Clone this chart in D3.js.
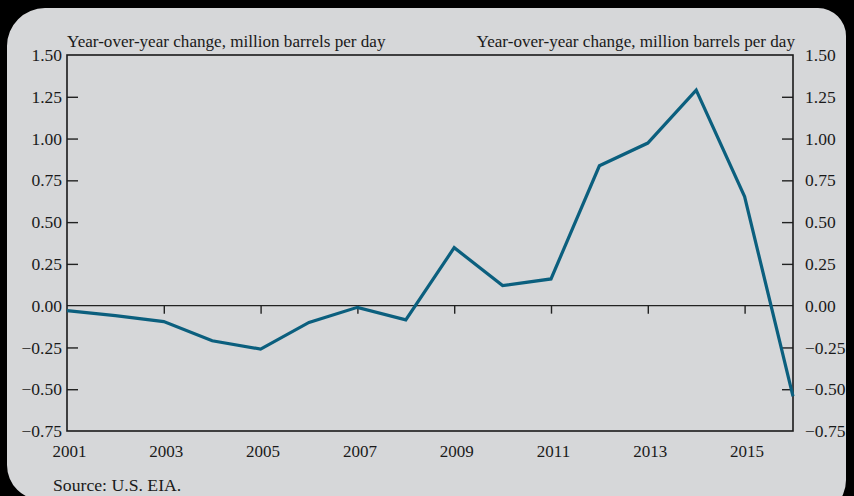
<!DOCTYPE html>
<html><head><meta charset="utf-8">
<script src="https://cdn.jsdelivr.net/npm/d3@7"></script>
<style>
html,body{margin:0;padding:0;background:#000;}
svg{display:block;}
text{font-family:"Liberation Serif","DejaVu Serif",serif;fill:#1a1a1a;}
</style></head>
<body>
<svg id="chart" width="854" height="496"></svg>
<script>
const years = [2001,2002,2003,2004,2005,2006,2007,2008,2009,2010,2011,2012,2013,2014,2015,2016];
const values = [-0.03,-0.06,-0.095,-0.21,-0.26,-0.10,-0.01,-0.085,0.347,0.12,0.16,0.837,0.973,1.29,0.653,-0.543];
const yTicks = [1.50,1.25,1.00,0.75,0.50,0.25,0.00,-0.25,-0.50,-0.75];
const xTickLabels = [2001,2003,2005,2007,2009,2011,2013,2015];
const xTickMarks = [2003,2005,2007,2009,2011,2013,2015];
const axisTitle = "Year-over-year change, million barrels per day";
const source = "Source: U.S. EIA.";

const svg = d3.select("#chart");
const L = 67, R = 793, T = 55, B = 431;

// background panel with uneven rounded corners
const p = d3.path();
p.moveTo(45,8); p.lineTo(818,8); p.arcTo(846,8,846,36,28);
p.lineTo(846,480); p.arcTo(846,516,810,516,36);
p.lineTo(42,500); p.arcTo(7,500,7,465,35);
p.lineTo(7,46); p.arcTo(7,8,45,8,38); p.closePath();
svg.append("path").attr("d",p.toString()).attr("fill","#d6d7d9");

const x = d3.scaleLinear().domain([2001,2016]).range([L,R]);
const y = d3.scaleLinear().domain([-0.75,1.5]).range([B,T]);

const fmt = v => (v<0?"\u2212":"") + Math.abs(v).toFixed(2);

// left axis
const gl = svg.append("g").attr("transform",`translate(${L},0)`)
  .call(d3.axisLeft(y).tickValues(yTicks).tickSize(-11).tickPadding(5).tickFormat(fmt));
// right axis
const gr = svg.append("g").attr("transform",`translate(${R},0)`)
  .call(d3.axisRight(y).tickValues(yTicks).tickSize(-11).tickPadding(12).tickFormat(fmt));
[gl,gr].forEach(g=>{
  g.select(".domain").remove();
  g.selectAll(".tick line").attr("stroke","#222").attr("stroke-width",1.4)
    .filter(d=>d===1.5||d===-0.75||d===0).remove();
  g.selectAll(".tick text").attr("font-size",17.5).attr("fill","#1a1a1a")
    .style("font-family",'"Liberation Serif",serif');
});

// zero line with x ticks
const gz = svg.append("g").attr("transform",`translate(0,${y(0)})`)
  .call(d3.axisBottom(x).tickValues(xTickMarks).tickSize(8).tickFormat(""));
gz.select(".domain").attr("d",`M${L},0H${R}`).attr("stroke","#222").attr("stroke-width",1.3);
gz.selectAll(".tick line").attr("stroke","#222").attr("stroke-width",1.4);

// x labels
const gx = svg.append("g").attr("transform",`translate(0,${B})`)
  .call(d3.axisBottom(x).tickValues(xTickLabels).tickSize(0).tickPadding(14).tickFormat(d3.format("d")));
gx.select(".domain").remove();
gx.selectAll(".tick text").attr("font-size",17).attr("dx",2).attr("fill","#1a1a1a")
  .style("font-family",'"Liberation Serif",serif');

// frame
svg.append("rect").attr("x",L).attr("y",T).attr("width",R-L).attr("height",B-T)
  .attr("fill","none").attr("stroke","#1a1a1a").attr("stroke-width",1.6);

// line
svg.append("path").datum(years.map((yr,i)=>[yr,values[i]]))
  .attr("fill","none").attr("stroke","#0b5f7e").attr("stroke-width",3.2)
  .attr("stroke-linejoin","miter")
  .attr("d",d3.line().x(d=>x(d[0])).y(d=>y(d[1])));

// titles
svg.append("text").attr("x",L).attr("y",47).attr("font-size",17.1).text(axisTitle);
svg.append("text").attr("x",R+2).attr("y",47).attr("font-size",17.1).attr("text-anchor","end").text(axisTitle);
svg.append("text").attr("x",53).attr("y",491).attr("font-size",17.7).attr("fill","#3a3a3a").text(source);
</script>
</body></html>
